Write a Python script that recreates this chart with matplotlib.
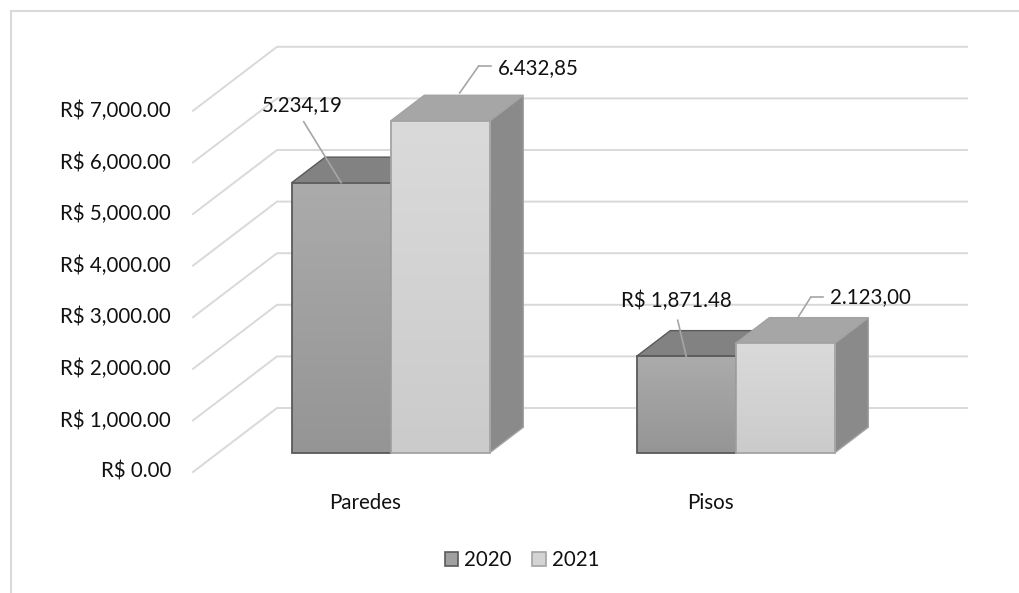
import numpy as np
import matplotlib.pyplot as plt
from matplotlib.patches import Polygon, Patch
from matplotlib.transforms import ScaledTranslation

categories = ["Paredes", "Pisos"]
series_names = ["2020", "2021"]
values_2020 = [5234.19, 1871.48]
values_2021 = [6432.85, 2123.00]
point_labels_2020 = ["5.234,19", "R$ 1,871.48"]
point_labels_2021 = ["6.432,85", "2.123,00"]
y_ticks = [0, 1000, 2000, 3000, 4000, 5000, 6000, 7000]
y_tick_labels = ["R$ 0.00", "R$ 1,000.00", "R$ 2,000.00", "R$ 3,000.00",
                 "R$ 4,000.00", "R$ 5,000.00", "R$ 6,000.00", "R$ 7,000.00"]

plt.rcParams['font.family'] = ['Lato', 'DejaVu Sans']
FS = 14.8
TXT = '#111111'

W, H, DPI = 1019, 593, 100
fig = plt.figure(figsize=(W / DPI, H / DPI), dpi=DPI)
ax = fig.add_axes([0, 0, 1, 1])
ax.axis('off')

# oblique projection: front floor edge origin, category width and value scale in pixels
X0, CAT_PX, Y0, PX_PER_UNIT = 193, 345, 472, 0.0516
DEPTH_X = 84 / CAT_PX
DEPTH_V = 64 / PX_PER_UNIT
ax.set_xlim(-X0 / CAT_PX, (W - X0) / CAT_PX)
ax.set_ylim((Y0 - H) / PX_PER_UNIT, Y0 / PX_PER_UNIT)


def proj(x, v, d):
    return (x + d * DEPTH_X, v + d * DEPTH_V)


def px_offset(dx, dy):
    return ax.transData + ScaledTranslation(dx / DPI, -dy / DPI, fig.dpi_scale_trans)


# chart area border (left and top)
fig.add_artist(plt.Line2D([11 / W, 11 / W], [0, 1 - 11 / H], color='#d9d9d9', lw=1.5))
fig.add_artist(plt.Line2D([11 / W, 1], [1 - 11 / H, 1 - 11 / H], color='#d9d9d9', lw=1.5))

# gridlines on the side wall and back wall
n_cat = len(categories)
for v, lab in zip(y_ticks, y_tick_labels):
    pts = np.array([proj(0, v, 0), proj(0, v, 1), proj(n_cat, v, 1)])
    ax.plot(pts[:, 0], pts[:, 1], color='#d9d9d9', lw=1.4, zorder=1)
    ax.text(-22 / CAT_PX, v, lab, ha='right', va='center', fontsize=FS, color=TXT)

for i, c in enumerate(categories):
    ax.annotate(c, xy=(i + 0.5, 0), xytext=(0, -31 * 0.72), textcoords='offset points',
                ha='center', va='center', fontsize=FS, color=TXT)

styles = [
    dict(grad=('#ababab', '#959595'), top='#828282', side='#6e6e6e', edge='#5a5a5a'),
    dict(grad=('#dadada', '#cbcbcb'), top='#a6a6a6', side='#8a8a8a', edge='#a3a3a3'),
]
series_values = [values_2020, values_2021]
BAR_W = 0.287
D0, D1 = 0.3, 0.7

z = 2
for i in range(n_cat):
    for j, vals in enumerate(series_values):
        st = styles[j]
        v = vals[i]
        xl = i + 0.5 - BAR_W + j * BAR_W
        xr = xl + BAR_W
        side = Polygon([proj(xr, 0, D0), proj(xr, 0, D1), proj(xr, v, D1), proj(xr, v, D0)],
                       closed=True, facecolor=st['side'], edgecolor=st['edge'], lw=1.0, zorder=z)
        top = Polygon([proj(xl, v, D0), proj(xr, v, D0), proj(xr, v, D1), proj(xl, v, D1)],
                      closed=True, facecolor=st['top'], edgecolor=st['edge'], lw=1.0, zorder=z)
        ax.add_patch(side)
        ax.add_patch(top)
        fx0, fy0 = proj(xl, 0, D0)
        fx1, fy1 = proj(xr, v, D0)
        grad = np.linspace(0, 1, 64).reshape(-1, 1)
        c0 = np.array(plt.matplotlib.colors.to_rgb(st['grad'][0]))
        c1 = np.array(plt.matplotlib.colors.to_rgb(st['grad'][1]))
        img = c1 + (c0 - c1) * grad[..., None]
        ax.imshow(img, extent=(fx0, fx1, fy0, fy1), origin='lower', aspect='auto',
                  zorder=z + 0.1, interpolation='bilinear')
        front = Polygon([(fx0, fy0), (fx1, fy0), (fx1, fy1), (fx0, fy1)], closed=True,
                        facecolor='none', edgecolor=st['edge'], lw=1.3, zorder=z + 0.2)
        ax.add_patch(front)
        z += 1

ax.set_xlim(-X0 / CAT_PX, (W - X0) / CAT_PX)
ax.set_ylim((Y0 - H) / PX_PER_UNIT, Y0 / PX_PER_UNIT)

# data labels with leader lines, anchored at the centre of each bar's top front edge
leader = '#a6a6a6'
label_sets = [
    (values_2020, point_labels_2020, 0,
     [dict(line=[(-37.5, -61), (0, 0)], text=(-38.5, -78), ha='center'),
      dict(line=[(-8.5, -36), (0, 0)], text=(-9.5, -55), ha='center')]),
    (values_2021, point_labels_2021, 1,
     [dict(line=[(19.5, -28), (38.5, -55), (50.5, -55)], text=(58, -53), ha='left'),
      dict(line=[(13.5, -27), (25.5, -46), (37.5, -46)], text=(44.5, -46), ha='left')]),
]
for vals, labels, j, lay in label_sets:
    for i in range(n_cat):
        v = vals[i]
        xl = i + 0.5 - BAR_W + j * BAR_W
        ax_, av_ = proj(xl + BAR_W / 2, v, D0)
        L = lay[i]
        for (dx0, dy0), (dx1, dy1) in zip(L['line'][:-1], L['line'][1:]):
            t0 = px_offset(dx0, dy0).transform((ax_, av_))
            t1 = px_offset(dx1, dy1).transform((ax_, av_))
            fig.add_artist(plt.Line2D([t0[0] / W, t1[0] / W], [t0[1] / H, t1[1] / H],
                                      color=leader, lw=1.2, zorder=20))
        ax.text(ax_, av_, labels[i], transform=px_offset(*L['text']), ha=L['ha'], va='center',
                fontsize=FS, color=TXT, zorder=21)

handles = [Patch(facecolor='#a0a0a0', edgecolor='#5a5a5a', lw=1.2),
           Patch(facecolor='#d4d4d4', edgecolor='#a3a3a3', lw=1.2)]
fig.legend(handles, series_names, loc='center', bbox_to_anchor=(522 / W, 1 - 560 / H), ncol=2,
           frameon=False, fontsize=FS, handlelength=0.65, handleheight=0.65, handletextpad=0.3,
           columnspacing=1.0, labelcolor=TXT)

fig.savefig('out.png', dpi=DPI)
